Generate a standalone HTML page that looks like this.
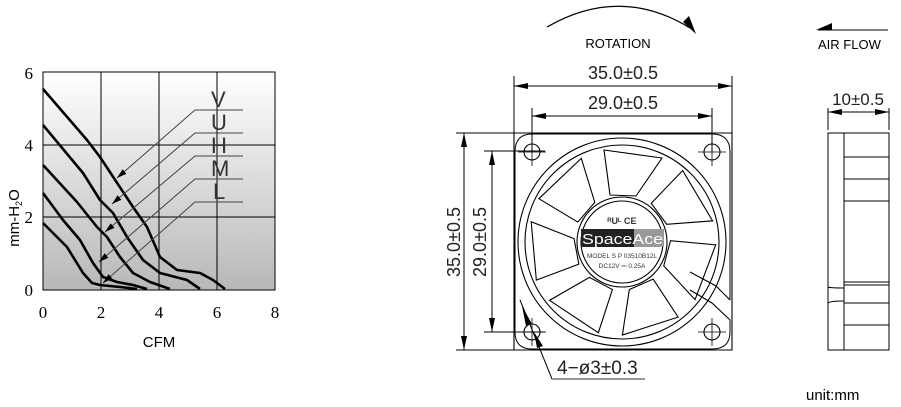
<!DOCTYPE html>
<html><head><meta charset="utf-8"><style>
html,body{margin:0;padding:0;background:#fff;}
svg{display:block;}
text{font-family:"Liberation Sans",sans-serif;}
text.s{font-family:"Liberation Serif",serif;}
</style></head><body>
<svg width="901" height="407" viewBox="0 0 901 407" xmlns="http://www.w3.org/2000/svg">
<defs>
<linearGradient id="g" x1="0" y1="0" x2="0" y2="1"><stop offset="0" stop-color="#ffffff"/><stop offset="1" stop-color="#b8b8b8"/></linearGradient>
<marker id="a" markerWidth="10" markerHeight="6" refX="10" refY="3" orient="auto" markerUnits="userSpaceOnUse"><path d="M0,0 L10,3 L0,6z" fill="#000"/></marker>
<marker id="b" markerWidth="14" markerHeight="6" refX="14" refY="3" orient="auto-start-reverse" markerUnits="userSpaceOnUse"><path d="M0,0 L14,3 L0,6z" fill="#000"/></marker>
<path id="bl" d="M-12,-47 L14,-46 L40,-84 L-18,-92Z" fill="none" stroke="#000" stroke-width="1.1"/>
</defs>
<!-- chart -->
<rect x="43" y="72" width="232" height="218" fill="url(#g)" stroke="#000" stroke-width="1"/>
<g stroke="#000" stroke-width="1">
<line x1="101" y1="72" x2="101" y2="290"/><line x1="159" y1="72" x2="159" y2="290"/><line x1="217" y1="72" x2="217" y2="290"/>
<line x1="43" y1="145" x2="275" y2="145"/><line x1="43" y1="217" x2="275" y2="217"/>
</g>
<g fill="none" stroke="#000" stroke-width="2.6" stroke-linejoin="round">
<polyline points="43,89 87,140 100,157 133,207 147,227 160,257 177,270 200,273 213,280 225,289"/>
<polyline points="43,125 83,173 100,200 113,213 127,237 143,260 160,273 187,280 200,289"/>
<polyline points="43,165 77,202 97,227 107,237 120,257 133,273 150,282 170,289"/>
<polyline points="43,193 63,220 80,240 93,263 103,277 117,282 133,285 147,289"/>
<polyline points="43,223 67,247 83,273 92,283 100,285 120,287 137,289"/>
</g>
<g stroke="#444" stroke-width="1" fill="none">
<polyline points="243,110 195,110 117,178" marker-end="url(#a)"/>
<polyline points="243,133 195,133 112,204" marker-end="url(#a)"/>
<polyline points="243,156 195,156 105,232" marker-end="url(#a)"/>
<polyline points="243,179 195,179 99,262" marker-end="url(#a)"/>
<polyline points="243,202 195,202 103,283" marker-end="url(#a)"/>
</g>
<g font-size="22" fill="#333">
<text x="211" y="107">V</text><text x="211" y="130">U</text><text x="211" y="153">H</text><text x="211" y="176">M</text><text x="213" y="199">L</text>
</g>
<g font-size="17" fill="#000">
<text class="s" x="33" y="79" text-anchor="end">6</text><text class="s" x="33" y="151" text-anchor="end">4</text><text class="s" x="33" y="223" text-anchor="end">2</text><text class="s" x="33" y="296" text-anchor="end">0</text>
<text class="s" x="43" y="318" text-anchor="middle">0</text><text class="s" x="101" y="318" text-anchor="middle">2</text><text class="s" x="159" y="318" text-anchor="middle">4</text><text class="s" x="217" y="318" text-anchor="middle">6</text><text class="s" x="275" y="318" text-anchor="middle">8</text>
</g>
<text x="159" y="347" font-size="15" text-anchor="middle">CFM</text>
<text transform="translate(19,218) rotate(-90)" font-size="15" text-anchor="middle">mm-H<tspan font-size="9" dy="3">2</tspan><tspan dy="-3">O</tspan></text>

<!-- rotation -->
<path d="M547,27 Q620,-15 690,28" fill="none" stroke="#000" stroke-width="1.2"/>
<path d="M683,22 L696,34 L689,16z" fill="#000"/>
<text x="618" y="48" font-size="13" text-anchor="middle">ROTATION</text>

<!-- dims -->
<g stroke="#000" stroke-width="1" fill="none">
<line x1="514" y1="76" x2="514" y2="133"/><line x1="732" y1="76" x2="732" y2="133"/>
<line x1="514" y1="86" x2="732" y2="86" marker-end="url(#b)" marker-start="url(#b)"/>
<line x1="532" y1="108" x2="532" y2="152"/><line x1="712" y1="108" x2="712" y2="152"/>
<line x1="532" y1="116" x2="712" y2="116" marker-end="url(#b)" marker-start="url(#b)"/>
<line x1="456" y1="133" x2="532" y2="133"/><line x1="456" y1="350" x2="532" y2="350"/>
<line x1="464" y1="133" x2="464" y2="350" marker-end="url(#b)" marker-start="url(#b)"/>
<line x1="484" y1="151" x2="545" y2="151"/><line x1="484" y1="332" x2="545" y2="332"/>
<line x1="492" y1="151" x2="492" y2="332" marker-end="url(#b)" marker-start="url(#b)"/>
</g>
<g font-size="18" fill="#222" text-anchor="middle">
<text x="623" y="79">35.0±0.5</text>
<text x="623" y="109">29.0±0.5</text>
<text transform="translate(460,242) rotate(-90)">35.0±0.5</text>
<text transform="translate(486,242) rotate(-90)">29.0±0.5</text>
</g>

<!-- fan front -->
<g stroke="#000" stroke-width="1.1" fill="none">
<path d="M514,133 H732 V350 H514 Z"/>
<path d="M730,320 V332 Q730,349 712,349 H532 Q515,349 515,332 V152 Q515,134 532,134 H712 Q730,134 730,152 V300" stroke-width="1"/>
<circle cx="532" cy="152" r="8"/><circle cx="712" cy="152" r="8"/><circle cx="532" cy="332" r="8"/><circle cx="712" cy="332" r="8"/>
<path d="M518,152h28M532,138v28M698,152h28M712,138v28M518,332h28M532,318v28M698,332h28M712,318v28" stroke-width="0.8"/>
<circle cx="622" cy="242" r="104"/>
<circle cx="622" cy="242" r="97"/>
<circle cx="622" cy="242" r="45"/>
<circle cx="622" cy="242" r="41"/>
<path d="M690,272 L716,286 L730,300 M690,290 L712,303 L730,320"/>
</g>
<g transform="translate(622,242)">
<use href="#bl" transform="rotate(0)"/><use href="#bl" transform="rotate(51.4)"/><use href="#bl" transform="rotate(102.8)"/><use href="#bl" transform="rotate(154.3)"/><use href="#bl" transform="rotate(205.7)"/><use href="#bl" transform="rotate(257.1)"/><use href="#bl" transform="rotate(308.6)"/>
</g>
<rect x="581" y="229" width="53" height="18" fill="#222"/>
<rect x="634" y="229" width="30" height="18" fill="#999"/>
<text x="582" y="244" font-size="15" fill="#fff" textLength="81" lengthAdjust="spacingAndGlyphs">SpaceAce</text>
<text x="622" y="224" font-size="9" text-anchor="middle" fill="#333" font-weight="bold">ᴿUᴸ CE</text>
<text x="622" y="258" font-size="6.5" text-anchor="middle" fill="#333">MODEL  S P 03510B12L</text>
<text x="622" y="268" font-size="6.5" text-anchor="middle" fill="#333">DC12V  ⎓  0.25A</text>
<!-- hole leader -->
<polyline points="520,300 552,379 645,379" fill="none" stroke="#000" stroke-width="1"/>
<line x1="645" y1="379" x2="552" y2="379" stroke="#777" stroke-width="1.5"/>
<path d="M522,306 L532,324 L526,326Z M534,332 L543,346 L537,348Z" fill="#000"/>
<text x="557" y="374" font-size="19" fill="#222">4−ø3±0.3</text>

<!-- side -->
<line x1="818" y1="30" x2="888" y2="30" stroke="#000" stroke-width="1"/>
<path d="M816,30 L832,23 L832,30Z" fill="#000"/>
<text x="818" y="49" font-size="13">AIR FLOW</text>
<text x="858" y="105" font-size="17" fill="#222" text-anchor="middle">10±0.5</text>
<g stroke="#000" stroke-width="1" fill="none">
<line x1="828" y1="108" x2="828" y2="130"/><line x1="889" y1="108" x2="889" y2="130"/>
<line x1="828" y1="112" x2="889" y2="112" marker-end="url(#b)" marker-start="url(#b)"/>
<rect x="828" y="133" width="61" height="217"/>
<line x1="844" y1="133" x2="844" y2="350"/>
<path d="M844,157H889M844,179H889M844,201H889M844,282H889M844,285H889M844,303H889M844,325H889"/>
<path d="M828,287 Q830,288 844,288 M828,303 Q830,301 844,301"/>
</g>
<text x="806" y="400" font-size="15">unit:mm</text>
</svg>
</body></html>
